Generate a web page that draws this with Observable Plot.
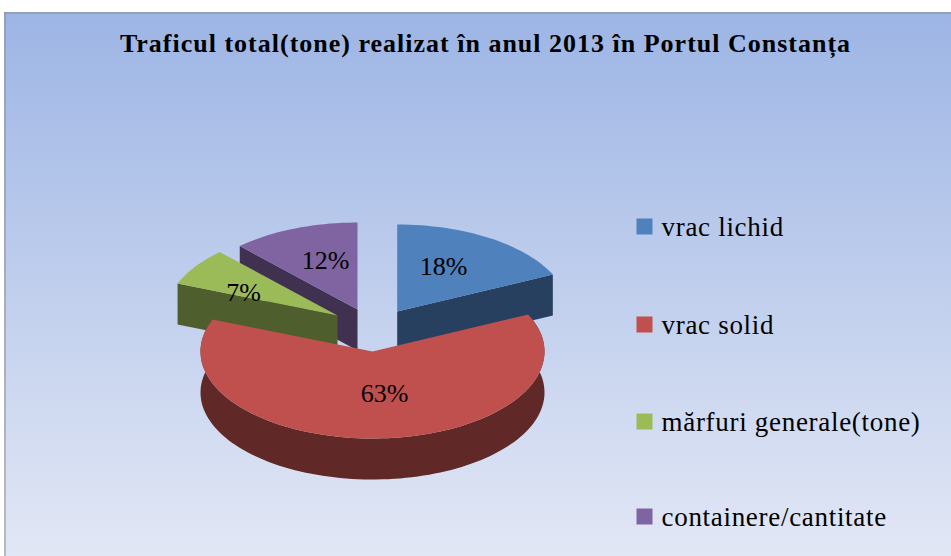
<!DOCTYPE html>
<html><head><meta charset="utf-8">
<script src="https://cdn.jsdelivr.net/npm/d3@7"></script>
<script src="https://cdn.jsdelivr.net/npm/@observablehq/plot@0.6"></script>
<style>html,body{margin:0;padding:0;background:#fff}svg{display:block}</style>
</head><body><div id="chart"></div>
<script>
const title = "Traficul total(tone) realizat în anul 2013 în Portul Constanța";
const categories = ["vrac lichid", "vrac solid", "mărfuri generale(tone)", "containere/cantitate"];
const shares = [18, 63, 7, 12];
const topColors = ["#4f81bd", "#c0504d", "#9bbb59", "#8064a2"];
const wallColors = ["#27405f", "#602826", "#4e5e2c", "#403151"];

// Projection of the exploded tilted pie (page units)
const apex = [[396.7, 311], [372, 351], [337, 315], [357, 309]];
const rx = 172, ry = 87, depth = 41;

const turn = d3.cumsum(shares).map(v => v * 3.6);
const slices = categories.map((c, i) => {
  const a0 = i ? turn[i - 1] : 0, a1 = turn[i], [cx, cy] = apex[i];
  const at = a => {
    const r = a * Math.PI / 180;
    return {x: cx + rx * Math.sin(r), y: cy - ry * Math.cos(r)};
  };
  const rim = d3.range(a0, a1, 2).concat(a1).map(at);
  const c0 = {x: cx, y: cy};
  const drop = p => ({x: p.x, y: p.y + depth});
  const end = rim[rim.length - 1];
  return {c, i, rim, top: [c0, ...rim],
    cut0: [c0, rim[0], drop(rim[0]), drop(c0)],
    cut1: [c0, end, drop(end), drop(c0)],
    outer: [...rim, ...rim.slice().reverse().map(drop)]};
});

const poly = (pts, fill) => Plot.line(pts, {x: "x", y: "y", fill, stroke: "none", curve: "linear-closed"});
const spaced = px => (index, scales, values, dims, ctx, next) => {
  const g = next(index, scales, values, dims, ctx);
  g.style.letterSpacing = px;
  return g;
};
const [blue, red, green, purple] = slices;

const labels = categories.map((c, i) => ({c, s: shares[i] + "%"}));
const labelAt = [[443, 266], [384, 393], [243, 292], [325, 260]];
const legendY = [226, 324, 421, 516];

const plot = Plot.plot({
  width: 951, height: 556, margin: 0,
  x: {domain: [0, 951], range: [0, 951], axis: null},
  y: {domain: [0, 556], range: [0, 556], axis: null},
  style: {background: "linear-gradient(#9db5e5, #e2e7f5) no-repeat 4px 12px / 947px 544px", fontFamily: "Liberation Serif"},
  marks: [
    Plot.ruleY([12.5], {x1: 4, x2: 951, stroke: "#8c8c8c", strokeWidth: 1}),
    Plot.ruleX([4.5], {y1: 12, y2: 556, stroke: "#8c8c8c", strokeWidth: 1}),
    poly(purple.cut0, wallColors[3]), poly(purple.top, topColors[3]),
    poly(green.cut0, wallColors[2]), poly(green.top, topColors[2]),
    poly(blue.cut1, wallColors[0]), poly(blue.top, topColors[0]),
    poly(red.outer, wallColors[1]), poly(red.top, topColors[1]),
    Plot.text(labels, {x: (d, i) => labelAt[i][0], y: (d, i) => labelAt[i][1], text: "s", fontSize: 26, fill: "#000", lineAnchor: "middle"}),
    Plot.text([title], {x: 485, y: 43, text: d => d, fontSize: 26, fontWeight: "bold", fill: "#000", lineAnchor: "middle", render: spaced("1px")}),
    Plot.dot(categories, {x: 644, y: (d, i) => legendY[i], r: 9.03, symbol: "square", fill: (d, i) => topColors[i], stroke: "none"}),
    Plot.text(categories, {x: 661, y: (d, i) => legendY[i] + 1, text: d => d, textAnchor: "start", lineAnchor: "middle", fontSize: 27, fill: "#000", render: spaced("0.7px")})
  ]
});
document.getElementById("chart").append(plot);
</script></body></html>
